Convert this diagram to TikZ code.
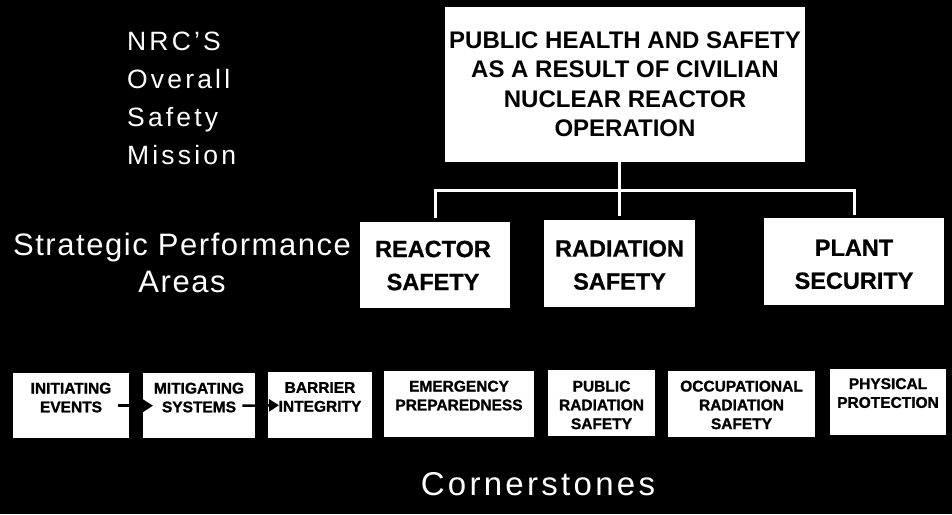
\documentclass[tikz,border=0pt]{standalone}
\usepackage{fontspec}
\setmainfont{Liberation Sans}
\newfontfamily\missionfont[LetterSpace=12]{Liberation Sans}
\newfontfamily\stratfont[LetterSpace=5]{Liberation Sans}
\newfontfamily\cornerfont[LetterSpace=10]{Liberation Sans}
\newfontfamily\heavyfont[FakeBold=1.2]{Liberation Sans Bold}
\newfontfamily\midfont[FakeBold=0.8]{Liberation Sans Bold}
\usetikzlibrary{arrows.meta}
\begin{document}
\begin{tikzpicture}[x=1pt,y=-1pt,
  box/.style={fill=white, inner sep=0pt, anchor=north west},
  toptext/.style={font=\fontsize{24}{29.5}\selectfont\bfseries, align=center, inner sep=0pt, anchor=north, text=black},
  midtext/.style={font=\midfont\fontsize{23.5}{33}\selectfont, align=center, inner sep=0pt, anchor=north, text=black},
  btext/.style={font=\heavyfont\fontsize{15.5}{18.8}\selectfont, align=center, inner sep=0pt, anchor=north, text=black},
  conn/.style={white, line width=3pt},
  arr/.style={black, line width=2.5pt, -{Triangle[length=10pt,width=12pt]}},
  lbl/.style={text=white, inner sep=0pt}
]
\useasboundingbox (0,0) rectangle (952,514);
\fill[black] (0,0) rectangle (952,514);

% left labels
\node[lbl, anchor=north west, align=left, font=\missionfont\fontsize{26.5}{38}\selectfont] (mission) at (127,31.5) {NRC’S\\Overall\\Safety\\Mission};
\node[lbl, anchor=north, align=center, font=\stratfont\fontsize{31}{37}\selectfont] (spa) at (182,233) {Strategic Performance\\Areas};
\node[lbl, anchor=base, font=\cornerfont\fontsize{33}{38}\selectfont] (corner) at (538,495.5) {Cornerstones};

% top box
\node[box, minimum width=360pt, minimum height=155pt] (top) at (445,7) {};
\node[toptext] (top-t) at (625,31.5) {PUBLIC HEALTH AND SAFETY\\AS A RESULT OF CIVILIAN\\NUCLEAR REACTOR\\OPERATION};

% strategic performance area boxes
\node[box, minimum width=150pt, minimum height=86pt] (rs) at (360,222) {};
\node[box, minimum width=151pt, minimum height=87pt] (rad) at (544,220) {};
\node[box, minimum width=180pt, minimum height=87pt] (ps) at (764,218) {};
\node[midtext] (rs-t) at (433,240.5) {REACTOR\\SAFETY};
\node[midtext] (rad-t) at (619.5,240) {RADIATION\\SAFETY};
\node[midtext] (ps-t) at (854,239.5) {PLANT\\SECURITY};

% connectors
\coordinate (bus) at (619,190);
\draw[conn, shorten >=4pt] (rad.north |- top.south) -- (rad.north);
\draw[conn, shorten <=4pt, shorten >=3pt] (rs.north) |- (bus) -| (ps.north);

% cornerstone boxes
\node[box, minimum width=116pt, minimum height=65pt] (ie) at (13,373) {};
\node[box, minimum width=112pt, minimum height=65pt] (ms) at (143,373) {};
\node[box, minimum width=104pt, minimum height=66pt] (bi) at (268,372) {};
\node[box, minimum width=150pt, minimum height=66pt] (ep) at (384,371) {};
\node[box, minimum width=107pt, minimum height=66pt] (pr) at (548,370) {};
\node[box, minimum width=147pt, minimum height=66pt] (ocr) at (668,371) {};
\node[box, minimum width=116pt, minimum height=66pt] (pp) at (830,369) {};

\node[btext] (ie-t) at (71,382.5) {INITIATING\\EVENTS};
\node[btext] (ms-t) at (199,382.5) {MITIGATING\\SYSTEMS};
\node[btext] (bi-t) at (320,382) {BARRIER\\INTEGRITY};
\node[btext] (ep-t) at (459,380.5) {EMERGENCY\\PREPAREDNESS};
\node[btext] (pr-t) at (601.5,380.5) {PUBLIC\\RADIATION\\SAFETY};
\node[btext] (ocr-t) at (741.5,380.5) {OCCUPATIONAL\\RADIATION\\SAFETY};
\node[btext] (pp-t) at (888,378) {PHYSICAL\\PROTECTION};

% arrows between cornerstones
\draw[arr] ([xshift=-11pt]ie.east) -- ([xshift=10pt]ms.west);
\draw[arr] ([xshift=-13pt]ms.east) -- ([xshift=11pt]bi.west);
\end{tikzpicture}
\end{document}
